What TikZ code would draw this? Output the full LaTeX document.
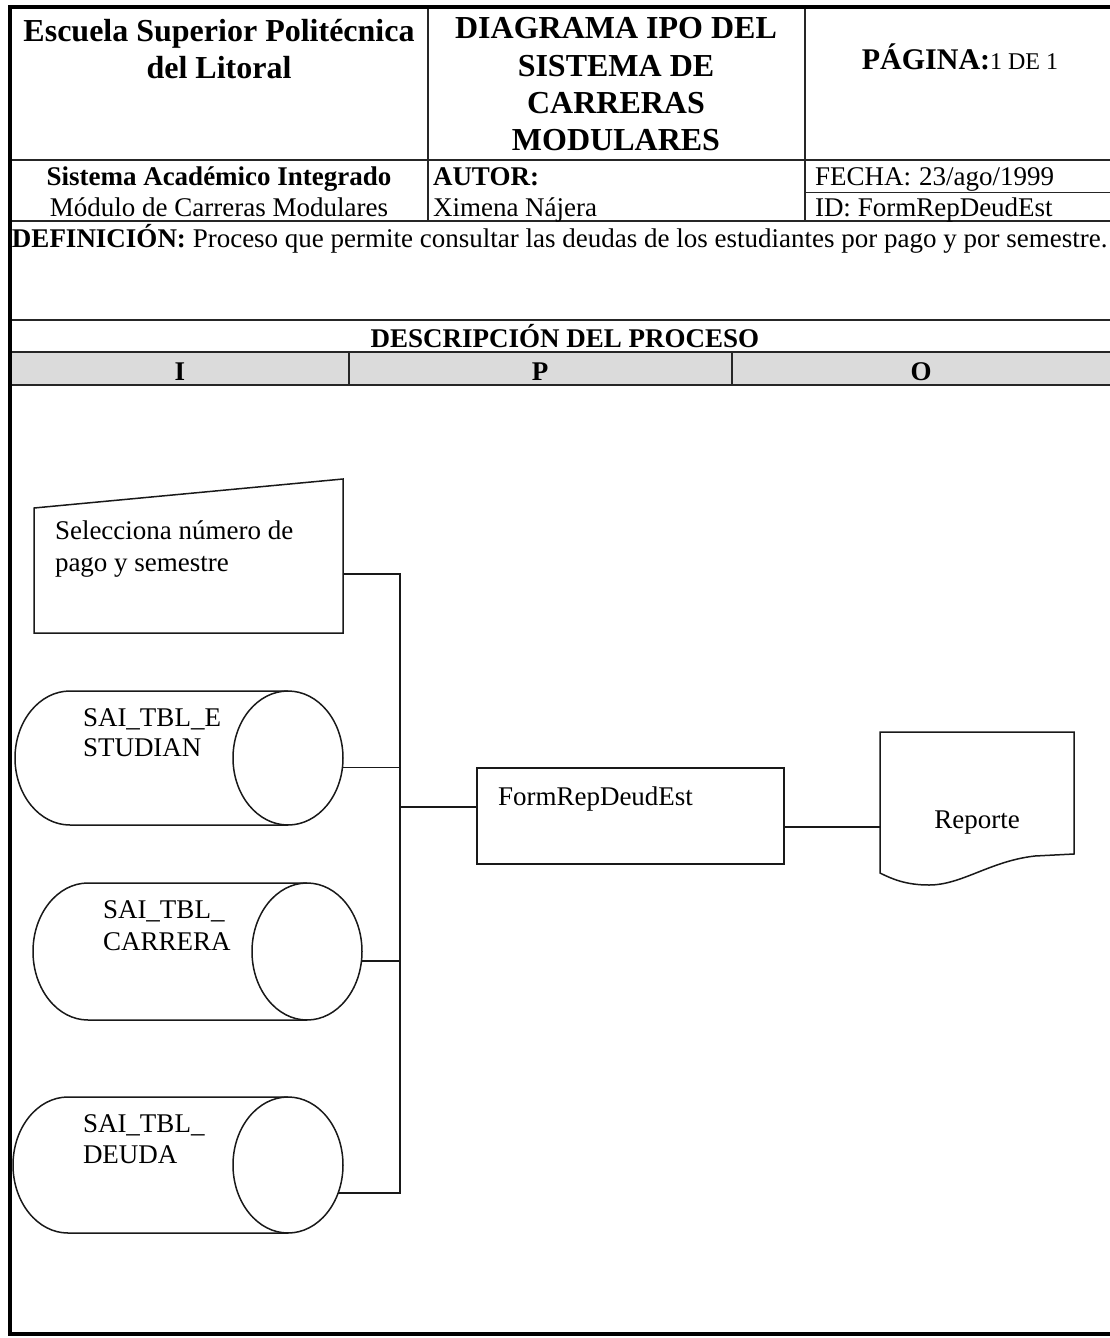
\documentclass[tikz,border=0pt]{standalone}
\usepackage{fontspec}
\setmainfont{Liberation Serif}
\usetikzlibrary{calc,shapes.geometric}
\begin{document}
\begin{tikzpicture}[x=1pt,y=-1pt,
  frame/.style={line width=4pt,black},
  gridline/.style={line width=1.8pt,black!85},
  shp/.style={line width=1.5pt,black!90},
  conn/.style={line width=1.5pt,black!90},
  txt/.style={inner sep=0pt,outer sep=0pt,font=\fontsize{27}{31}\selectfont},
  btxt/.style={inner sep=0pt,outer sep=0pt,font=\fontsize{27}{31}\selectfont\bfseries},
  htxt/.style={inner sep=0pt,outer sep=0pt,font=\fontsize{32}{36}\selectfont\bfseries},
  ghost/.style={draw=none,inner sep=0pt,outer sep=0pt},
  dbend/.style={ellipse,draw,shp,inner sep=0pt,outer sep=0pt,minimum width=110pt},
]
\useasboundingbox (0,0) rectangle (1110,1338);
\clip (0,0) rectangle (1110,1338);
\fill[white] (0,0) rectangle (1110,1338);

% shaded IPO row
\fill[black!14] (10,352) rectangle (1115,385);

% header grid
\draw[gridline] (10,160) -- (1115,160);
\draw[gridline] (805,192.5) -- (1115,192.5);
\draw[gridline] (10,221) -- (1115,221);
\draw[gridline] (10,320) -- (1115,320);
\draw[gridline] (10,352) -- (1115,352);
\draw[gridline] (10,385) -- (1115,385);
\draw[gridline] (428,7) -- (428,221);
\draw[gridline] (805,7) -- (805,221);
\draw[gridline] (349,352) -- (349,385);
\draw[gridline] (732,352) -- (732,385);

% outer frame
\draw[frame] (1120,7) -- (10,7) -- (10,1334) -- (1120,1334);

% header texts
\node[htxt,anchor=base] (esc1) at (219,42) {Escuela Superior Politécnica};
\node[htxt,anchor=base] (esc2) at (219,78) {del Litoral};
\node[htxt,anchor=base] (tit1) at (616,39) {DIAGRAMA IPO DEL};
\node[htxt,anchor=base] (tit2) at (616,76) {SISTEMA DE};
\node[htxt,anchor=base] (tit3) at (616,113) {CARRERAS};
\node[htxt,anchor=base] (tit4) at (616,150) {MODULARES};
\node[inner sep=0pt,anchor=base] (pag) at (960,70) {{\fontsize{30}{34}\selectfont\bfseries PÁGINA:}{\fontsize{24}{28}\selectfont 1 DE 1}};

\node[btxt,anchor=base] (sis) at (219,185) {Sistema Académico Integrado};
\node[txt,anchor=base] (mod) at (219,216) {Módulo de Carreras Modulares};
\node[btxt,anchor=base west] (aut) at (433,185) {AUTOR:};
\node[txt,anchor=base west] (xim) at (433,216) {Ximena Nájera};
\node[txt,anchor=base west] (fec) at (815,185) {FECHA:\hspace{8pt}23/ago/1999};
\node[txt,anchor=base west] (idn) at (815,216) {ID: FormRepDeudEst};

\node[txt,anchor=base west] (def) at (12,247) {\textbf{DEFINICIÓN:} Proceso que permite consultar las deudas de los estudiantes por pago y por semestre.};
\node[btxt,anchor=base] (desc) at (565,347) {DESCRIPCIÓN DEL PROCESO};
\node[btxt,anchor=base] (colI) at (180,380) {I};
\node[btxt,anchor=base] (colP) at (540,380) {P};
\node[btxt,anchor=base] (colO) at (921,380) {O};

% manual input
\node[ghost,minimum width=309pt,minimum height=154pt] (inp) at (188.5,556) {};
\draw[shp] ($(inp.north west)+(0,29)$) -- (inp.north east) -- (inp.south east) -- (inp.south west) -- cycle;
\node[txt,anchor=base west] (inpt1) at (55,539) {Selecciona número de};
\node[txt,anchor=base west] (inpt2) at (55,571) {pago y semestre};

% cylinders
\node[dbend,minimum height=134pt] (est) at (288,758) {};
\draw[shp] (est.north) -- ++(-218,0) arc[start angle=270,end angle=90,x radius=55,y radius=67] -- (est.south);
\node[txt,anchor=base west] (estt1) at (83,726) {SAI\_TBL\_E};
\node[txt,anchor=base west] (estt2) at (83,756) {STUDIAN};

\node[dbend,minimum height=137pt] (car) at (307,951.5) {};
\draw[shp] (car.north) -- ++(-219,0) arc[start angle=270,end angle=90,x radius=55,y radius=68.5] -- (car.south);
\node[txt,anchor=base west] (cart1) at (103,918) {SAI\_TBL\_};
\node[txt,anchor=base west] (cart2) at (103,950) {CARRERA};

\node[dbend,minimum height=136pt] (deu) at (288,1165) {};
\draw[shp] (deu.north) -- ++(-220,0) arc[start angle=270,end angle=90,x radius=55,y radius=68] -- (deu.south);
\node[txt,anchor=base west] (deut1) at (83,1132) {SAI\_TBL\_};
\node[txt,anchor=base west] (deut2) at (83,1163) {DEUDA};

% process
\node[draw,shp,inner sep=0pt,outer sep=0pt,minimum width=307pt,minimum height=96pt] (proc) at (630.5,816) {};
\node[txt,anchor=base west] (proct) at (498,805) {FormRepDeudEst};

% report (document)
\node[ghost,minimum width=194pt,minimum height=152pt] (rep) at (977,808) {};
\draw[shp] (rep.north west) -- (rep.north east) -- (1074,854) -- (1035,856)
  .. controls (990,861) and (962,885) .. (929,885)
  .. controls (906,885) and (892,879) .. (880,873) -- cycle;
\node[txt,anchor=base] (rept) at (977,828) {Reporte};

% connectors
\coordinate (bt) at (400,574);
\coordinate (inpc) at ($(inp.south east)!0.383!(inp.north east)$);
\coordinate (bb) at (deu.-29 -| bt);
\draw[conn] (inpc) -| (bb) -- (deu.-29);
\draw[conn] (est.-10) -- (est.-10 -| bt);
\draw[conn] (car.-10) -- (car.-10 -| bt);
\coordinate (pin) at (400,807);
\draw[conn] (pin) -- (pin -| proc.west);
\coordinate (pout) at ($(proc.east)+(0,11)$);
\draw[conn] (pout) -- (pout -| rep.west);
\end{tikzpicture}
\end{document}
